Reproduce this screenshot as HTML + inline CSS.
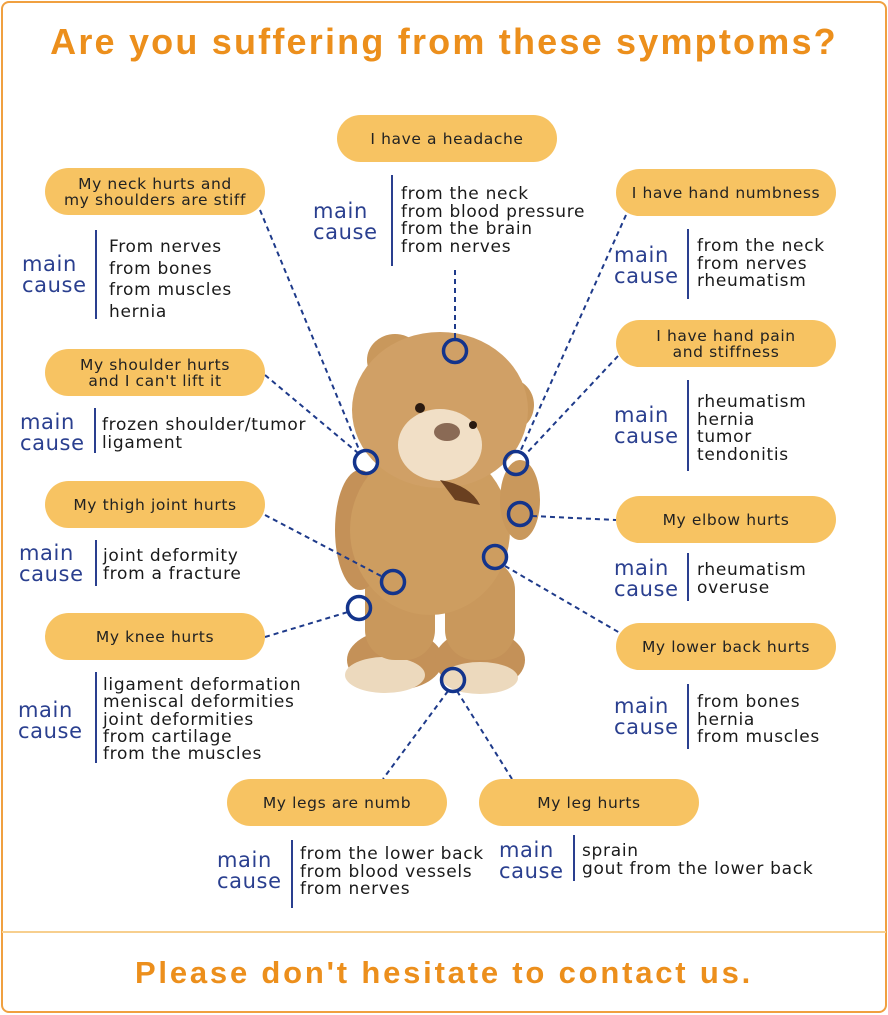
<!DOCTYPE html>
<html><head><meta charset="utf-8"><style>
*{margin:0;padding:0;box-sizing:border-box}
body{width:888px;height:1015px;background:#fff;position:relative;overflow:hidden;font-family:"DejaVu Sans","Liberation Sans",sans-serif}
.frame{position:absolute;left:1px;top:1px;width:886px;height:1012px;border:2px solid #f0a040;border-radius:8px}
.sep{position:absolute;left:2px;top:931px;width:884px;height:2px;background:#f7cf8e}
.title{position:absolute;left:0;width:888px;text-align:center;color:#ec8f1c;font-family:"Liberation Sans",sans-serif;font-weight:bold}
.pill{position:absolute;width:220px;height:47px;border-radius:24px;background:#f7c362;display:flex;align-items:center;justify-content:center;text-align:center;font-size:15.5px;line-height:16px;color:#222;letter-spacing:0.6px}
.mc{position:absolute;color:#2a3f8f;font-size:21px;line-height:21px;letter-spacing:0.6px;margin-top:1px}
.vl{position:absolute;width:2px;background:#2a3f8f}
.tx{position:absolute;font-size:17px;color:#1a1a1a;letter-spacing:0.7px;white-space:nowrap;margin-top:2px}
svg{position:absolute;left:0;top:0}
</style></head><body>
<div class="frame"></div>
<div class="sep"></div>
<div class="title" style="top:21px;font-size:36px;letter-spacing:2.2px">Are you suffering from these symptoms?</div>
<div class="title" style="top:955px;font-size:31px;letter-spacing:2.8px">Please don't hesitate to contact us.</div>

<svg width="888" height="1015">
<g>
<ellipse cx="395" cy="360" rx="28" ry="26" fill="#c9985c"/>
<ellipse cx="398" cy="362" rx="16" ry="14" fill="#e8cfa6"/>
<ellipse cx="510" cy="405" rx="24" ry="26" fill="#c9985c"/>
<ellipse cx="512" cy="405" rx="13" ry="15" fill="#e8cfa6"/>
<ellipse cx="395" cy="660" rx="48" ry="30" fill="#c49158"/>
<ellipse cx="480" cy="660" rx="45" ry="30" fill="#c49158"/>
<ellipse cx="385" cy="675" rx="40" ry="18" fill="#ecd9bd"/>
<ellipse cx="480" cy="678" rx="38" ry="16" fill="#ecd9bd"/>
<rect x="365" y="560" width="70" height="100" rx="30" fill="#c9985c"/>
<rect x="445" y="560" width="70" height="100" rx="30" fill="#c9985c"/>
<ellipse cx="360" cy="530" rx="25" ry="60" fill="#c49158"/>
<ellipse cx="430" cy="530" rx="80" ry="85" fill="#cd9d60"/>
<ellipse cx="520" cy="500" rx="20" ry="40" fill="#c9985c"/>
<ellipse cx="440" cy="410" rx="88" ry="78" fill="#d0a066"/>
<ellipse cx="440" cy="445" rx="42" ry="36" fill="#f1dfc6"/>
<ellipse cx="447" cy="432" rx="13" ry="9" fill="#8a6a55"/>
<circle cx="420" cy="408" r="5" fill="#2a1a10"/>
<circle cx="473" cy="425" r="4" fill="#2a1a10"/>
<path d="M440 480 Q470 485 480 505 L455 500 Z" fill="#6a4020"/>
</g>
<g stroke="#1e3a8a" stroke-width="2" stroke-dasharray="5,4" fill="none">
<line x1="455" y1="270" x2="455" y2="340"/>
<line x1="260" y1="210" x2="360" y2="452"/>
<line x1="626" y1="215" x2="520" y2="452"/>
<line x1="265" y1="375" x2="358" y2="453"/>
<line x1="618" y1="356" x2="525" y2="455"/>
<line x1="532" y1="516" x2="616" y2="520"/>
<line x1="505" y1="566" x2="620" y2="633"/>
<line x1="265" y1="515" x2="383" y2="577"/>
<line x1="265" y1="637" x2="348" y2="612"/>
<line x1="448" y1="691" x2="383" y2="779"/>
<line x1="457" y1="691" x2="512" y2="779"/>
</g>
<g stroke="#13348c" stroke-width="3.5" fill="none">
<circle cx="455" cy="351" r="11.5"/>
<circle cx="366" cy="462" r="11.5"/>
<circle cx="516" cy="463" r="11.5"/>
<circle cx="520" cy="514" r="11.5"/>
<circle cx="495" cy="557" r="11.5"/>
<circle cx="393" cy="582" r="11.5"/>
<circle cx="359" cy="608" r="11.5"/>
<circle cx="453" cy="680" r="11.5"/>
</g>
</svg>

<div class="pill" style="left:337px;top:115px">I have a headache</div>
<div class="pill" style="left:45px;top:168px">My neck hurts and<br>my shoulders are stiff</div>
<div class="pill" style="left:616px;top:169px">I have hand numbness</div>
<div class="pill" style="left:45px;top:349px">My shoulder hurts<br>and I can't lift it</div>
<div class="pill" style="left:616px;top:320px">I have hand pain<br>and stiffness</div>
<div class="pill" style="left:45px;top:481px">My thigh joint hurts</div>
<div class="pill" style="left:616px;top:496px">My elbow hurts</div>
<div class="pill" style="left:45px;top:613px">My knee hurts</div>
<div class="pill" style="left:616px;top:623px">My lower back hurts</div>
<div class="pill" style="left:227px;top:779px">My legs are numb</div>
<div class="pill" style="left:479px;top:779px">My leg hurts</div>

<div class="mc" style="left:313px;top:200px">main<br>cause</div>
<div class="vl" style="left:391px;top:175px;height:91px"></div>
<div class="tx" style="left:401px;top:184px;line-height:17.5px">from the neck<br>from blood pressure<br>from the brain<br>from nerves</div>

<div class="mc" style="left:22px;top:253px">main<br>cause</div>
<div class="vl" style="left:95px;top:230px;height:89px"></div>
<div class="tx" style="left:109px;top:235px;line-height:21.5px">From nerves<br>from bones<br>from muscles<br>hernia</div>

<div class="mc" style="left:614px;top:244px">main<br>cause</div>
<div class="vl" style="left:687px;top:229px;height:70px"></div>
<div class="tx" style="left:697px;top:236px;line-height:17.5px">from the neck<br>from nerves<br>rheumatism</div>

<div class="mc" style="left:20px;top:411px">main<br>cause</div>
<div class="vl" style="left:94px;top:408px;height:45px"></div>
<div class="tx" style="left:102px;top:415px;line-height:17.5px">frozen shoulder/tumor<br>ligament</div>

<div class="mc" style="left:614px;top:404px">main<br>cause</div>
<div class="vl" style="left:687px;top:380px;height:91px"></div>
<div class="tx" style="left:697px;top:392px;line-height:17.5px">rheumatism<br>hernia<br>tumor<br>tendonitis</div>

<div class="mc" style="left:19px;top:542px">main<br>cause</div>
<div class="vl" style="left:95px;top:540px;height:46px"></div>
<div class="tx" style="left:103px;top:546px;line-height:17.5px">joint deformity<br>from a fracture</div>

<div class="mc" style="left:614px;top:557px">main<br>cause</div>
<div class="vl" style="left:687px;top:553px;height:48px"></div>
<div class="tx" style="left:697px;top:560px;line-height:17.5px">rheumatism<br>overuse</div>

<div class="mc" style="left:18px;top:699px">main<br>cause</div>
<div class="vl" style="left:95px;top:672px;height:91px"></div>
<div class="tx" style="left:103px;top:675px;line-height:17.3px">ligament deformation<br>meniscal deformities<br>joint deformities<br>from cartilage<br>from the muscles</div>

<div class="mc" style="left:614px;top:695px">main<br>cause</div>
<div class="vl" style="left:687px;top:684px;height:65px"></div>
<div class="tx" style="left:697px;top:692px;line-height:17.5px">from bones<br>hernia<br>from muscles</div>

<div class="mc" style="left:217px;top:849px">main<br>cause</div>
<div class="vl" style="left:291px;top:840px;height:68px"></div>
<div class="tx" style="left:300px;top:844px;line-height:17.5px">from the lower back<br>from blood vessels<br>from nerves</div>

<div class="mc" style="left:499px;top:839px">main<br>cause</div>
<div class="vl" style="left:573px;top:835px;height:46px"></div>
<div class="tx" style="left:582px;top:841px;line-height:17.5px">sprain<br>gout from the lower back</div>
</body></html>
